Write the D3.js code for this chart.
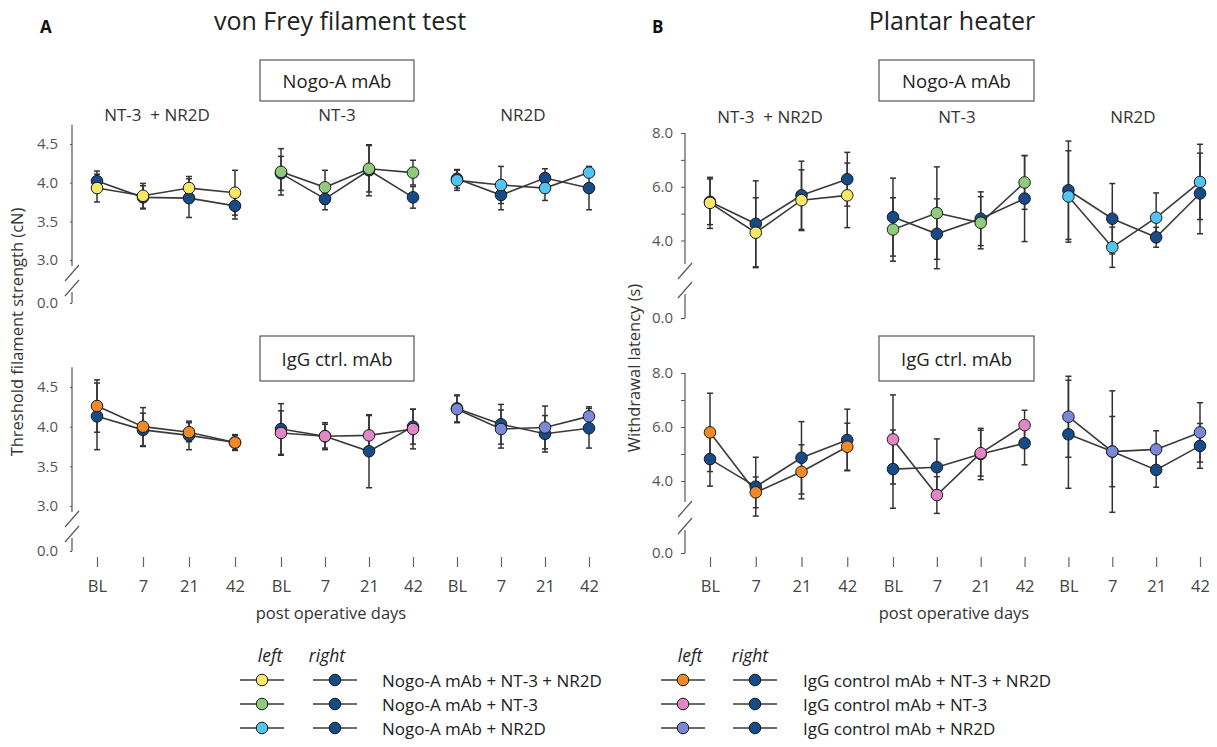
<!DOCTYPE html>
<html><head><meta charset="utf-8">
<script src="https://cdn.jsdelivr.net/npm/d3@7"></script>
<style>
body{margin:0;background:#fff}
text{font-family:"Open Sans",sans-serif}
</style></head>
<body><svg id="c" width="1217" height="747"></svg>
<script>
// ---------- DATA ----------
const days = ["BL","7","21","42"];
const groupNames = ["NT-3  + NR2D","NT-3","NR2D"];
const vfTicks = [3.0,3.5,4.0,4.5];
const phTicks = [4.0,6.0,8.0];
const phMinorTicks = [5.0,7.0];

// von Frey, Nogo-A mAb (left = coloured, right = dark blue), one row per group
const vfNogoLeft     = [[3.93,3.83,3.93,3.87],[4.14,3.94,4.18,4.13],[4.03,3.97,3.93,4.13]];
const vfNogoLeftErr  = [[0.18,0.16,0.15,0.29],[0.30,0.22,0.30,0.16],[0.13,0.24,0.16,0.05]];
const vfNogoRight    = [[4.02,3.81,3.80,3.70],[4.12,3.79,4.16,3.81],[4.05,3.84,4.06,3.93]];
const vfNogoRightErr = [[0.13,0.15,0.25,0.17],[0.22,0.14,0.33,0.14],[0.12,0.19,0.12,0.28]];
// von Frey, IgG ctrl. mAb
const vfIgGLeft      = [[4.26,4.00,3.93,3.80],[3.92,3.88,3.89,3.97],[4.22,3.97,3.99,4.13]];
const vfIgGLeftErr   = [[0.33,0.24,0.12,0.09],[0.28,0.17,0.25,0.25],[0.17,0.24,0.27,0.12]];
const vfIgGRight     = [[4.13,3.96,3.89,3.80],[3.97,3.88,3.69,4.00],[4.23,4.03,3.91,3.98]];
const vfIgGRightErr  = [[0.42,0.21,0.18,0.10],[0.32,0.15,0.46,0.22],[0.17,0.25,0.23,0.25]];
// Plantar heater, Nogo-A mAb
const phNogoLeft     = [[5.40,4.29,5.50,5.68],[4.41,5.02,4.66,6.16],[5.64,3.75,4.85,6.18]];
const phNogoLeftErr  = [[0.95,1.30,1.13,1.20],[1.18,1.72,0.97,1.00],[1.70,0.75,0.92,1.40]];
const phNogoRight    = [[5.44,4.62,5.68,6.28],[4.87,4.25,4.81,5.56],[5.87,4.81,4.12,5.75]];
const phNogoRightErr = [[0.85,1.60,1.27,1.00],[1.45,1.30,1.00,1.60],[1.83,1.31,0.37,1.50]];
// Plantar heater, IgG ctrl. mAb
const phIgGLeft      = [[5.80,3.58,4.34,5.27],[5.54,3.48,5.03,6.07],[6.38,5.09,5.17,5.80]];
const phIgGLeftErr   = [[1.45,0.57,1.00,0.87],[1.65,0.68,0.85,0.55],[1.50,2.25,0.69,1.10]];
const phIgGRight     = [[4.81,3.79,4.86,5.52],[4.44,4.51,5.00,5.40],[5.73,5.09,4.41,5.30]];
const phIgGRightErr  = [[1.00,1.09,1.34,1.14],[1.45,1.05,0.95,0.80],[2.00,1.30,0.64,0.83]];

const nogoColors = ["#f6e766","#8fcb7b","#52c4ef"];
const iggColors  = ["#f08a28","#e387c4","#7b88d6"];
const rightColor = "#174b87";

const legendNogo = ["Nogo-A mAb + NT-3 + NR2D","Nogo-A mAb + NT-3","Nogo-A mAb + NR2D"];
const legendIgG  = ["IgG control mAb + NT-3 + NR2D","IgG control mAb + NT-3","IgG control mAb + NR2D"];

// ---------- LAYOUT ----------
const svg = d3.select("#c");
const ink = "#3a3a3a";
const tickCol = "#555";

const panels = [
  { letter:"A", letterX:40, title:"von Frey filament test", titleX:340, ax:72, xr:[97,281,589],
    boxX:[260,414], subX:[157,337,523], ticks:vfTicks, minor:[], top:4.75, tickSize:2, pad:12,
    ylabel:"Threshold filament strength (cN)", ylabelX:19, ylabelY:332, daysX:331,
    rows:[
      {box:"Nogo-A mAb", boxY:[60,101], subY:114, dom:[3.0,4.5], yr:[260,144], bTop:266, bBot:292, zeroY:303,
       left:vfNogoLeft, leftErr:vfNogoLeftErr, right:vfNogoRight, rightErr:vfNogoRightErr, colors:nogoColors},
      {box:"IgG ctrl. mAb", boxY:[336,381], dom:[3.0,4.5], yr:[506,387], bTop:512, bBot:538, zeroY:551,
       left:vfIgGLeft, leftErr:vfIgGLeftErr, right:vfIgGRight, rightErr:vfIgGRightErr, colors:iggColors}
    ]},
  { letter:"B", letterX:652, title:"Plantar heater", titleX:952, ax:685, xr:[710,893,1200],
    boxX:[879,1034], subX:[770,957,1133], ticks:phTicks, minor:phMinorTicks, top:8.0, tickSize:4, pad:8,
    ylabel:"Withdrawal latency (s)", ylabelX:636, ylabelY:368, daysX:954,
    rows:[
      {box:"Nogo-A mAb", boxY:[60,101], subY:116, dom:[4.0,8.0], yr:[240.5,133], bTop:264, bBot:294, zeroY:318,
       left:phNogoLeft, leftErr:phNogoLeftErr, right:phNogoRight, rightErr:phNogoRightErr, colors:nogoColors},
      {box:"IgG ctrl. mAb", boxY:[336,381], dom:[4.0,8.0], yr:[481,373], bTop:502, bBot:530, zeroY:553,
       left:phIgGLeft, leftErr:phIgGLeftErr, right:phIgGRight, rightErr:phIgGRightErr, colors:iggColors}
    ]}
];

const fmt = d3.format(".1f");

function series(vals, errs) {
  const pts = [];
  vals.forEach((gv, gi) => gv.forEach((v, di) => pts.push({g:gi, i:gi*4+di, v:v, e:errs[gi][di]})));
  return pts;
}

panels.forEach(p => {
  const x = d3.scaleLinear().domain([0,4,11]).range(p.xr);
  svg.append("text").attr("x", p.letterX).attr("y", 33).attr("font-size", 17).attr("font-weight", "bold")
    .attr("fill", "#111").text(p.letter);
  svg.append("text").attr("x", p.titleX).attr("y", 30).attr("text-anchor", "middle").attr("font-size", 25)
    .attr("fill", "#222").text(p.title);
  svg.append("text").attr("transform", `translate(${p.ylabelX},${p.ylabelY}) rotate(-90)`)
    .attr("text-anchor", "middle").attr("dominant-baseline", "middle").attr("font-size", 16.5).attr("fill", "#333").text(p.ylabel);
  const xAxis = d3.axisBottom(x).tickValues(d3.range(12)).tickFormat(i => days[i % 4]).tickSize(10).tickPadding(13);
  const gx = svg.append("g").attr("transform", "translate(0,557)").call(xAxis);
  gx.select(".domain").remove();
  gx.selectAll(".tick line").attr("stroke", "#666").attr("stroke-width", 1.2);
  gx.selectAll(".tick text").attr("font-size", 16.5).attr("fill", "#444").attr("font-family", "'Open Sans',sans-serif");
  svg.append("text").attr("x", p.daysX).attr("y", 619).attr("text-anchor", "middle").attr("font-size", 16.5)
    .attr("fill", "#333").text("post operative days");

  p.rows.forEach(r => {
    const y = d3.scaleLinear().domain(r.dom).range(r.yr);
    const g = svg.append("g");
    g.append("rect").attr("x", p.boxX[0]).attr("y", r.boxY[0]).attr("width", p.boxX[1]-p.boxX[0])
      .attr("height", r.boxY[1]-r.boxY[0]).attr("fill", "#fff").attr("stroke", "#555").attr("stroke-width", 1.2);
    g.append("text").attr("x", (p.boxX[0]+p.boxX[1])/2).attr("y", (r.boxY[0]+r.boxY[1])/2)
      .attr("text-anchor", "middle").attr("dominant-baseline", "central").attr("font-size", 18.5).attr("fill", "#222").text(r.box);
    if (r.subY) {
      groupNames.forEach((n, gi) => g.append("text").attr("x", p.subX[gi]).attr("y", r.subY)
        .attr("text-anchor", "middle").attr("dominant-baseline", "central").attr("font-size", 17).attr("fill", "#333")
        .style("white-space", "pre").text(n));
    }
    g.append("line").attr("x1", p.ax).attr("x2", p.ax).attr("y1", y(p.top)).attr("y2", r.bTop)
      .attr("stroke", "#555").attr("stroke-width", 1.2);
    g.append("line").attr("x1", p.ax).attr("x2", p.ax).attr("y1", r.bBot).attr("y2", r.zeroY)
      .attr("stroke", "#555").attr("stroke-width", 1.2);
    [r.bTop + 7, r.bBot - 4].forEach(yy => g.append("line")
      .attr("x1", p.ax - 7).attr("y1", yy + 8).attr("x2", p.ax + 7).attr("y2", yy - 8)
      .attr("stroke", "#555").attr("stroke-width", 1.2));
    const yAx = d3.axisLeft(y).tickValues(p.ticks).tickFormat(fmt).tickSize(p.tickSize).tickPadding(p.pad);
    const ga = g.append("g").attr("transform", `translate(${p.ax},0)`).call(yAx);
    ga.select(".domain").remove();
    if (p.minor.length) {
      const gm = g.append("g").attr("transform", `translate(${p.ax},0)`)
        .call(d3.axisLeft(y).tickValues(p.minor).tickFormat("").tickSize(p.tickSize));
      gm.select(".domain").remove();
    }
    const y0 = d3.scaleLinear().domain([0, 1]).range([r.zeroY, r.zeroY - 50]);
    const gz = g.append("g").attr("transform", `translate(${p.ax},0)`)
      .call(d3.axisLeft(y0).tickValues([0]).tickFormat(fmt).tickSize(p.tickSize).tickPadding(p.pad));
    gz.select(".domain").remove();
    g.selectAll(".tick line").attr("stroke", "#555");
    g.selectAll(".tick text").attr("font-size", 15).attr("fill", tickCol).attr("font-family", "'Open Sans',sans-serif");

    const L = series(r.left, r.leftErr), R = series(r.right, r.rightErr);
    const line = d3.line().x(d => x(d.i)).y(d => y(d.v));
    [R, L].forEach(S => {
      d3.range(3).forEach(gi => {
        g.append("path").datum(S.filter(d => d.g === gi)).attr("d", line).attr("fill", "none")
          .attr("stroke", ink).attr("stroke-width", 1.6);
      });
    });
    [R, L].forEach(S => {
      const eb = g.append("g").attr("stroke", "#333").attr("stroke-width", 1.5);
      S.forEach(d => {
        eb.append("line").attr("x1", x(d.i)).attr("x2", x(d.i)).attr("y1", y(d.v - d.e)).attr("y2", y(d.v + d.e));
        [d.v - d.e, d.v + d.e].forEach(vv => eb.append("line").attr("x1", x(d.i) - 3).attr("x2", x(d.i) + 3)
          .attr("y1", y(vv)).attr("y2", y(vv)));
      });
    });
    g.selectAll(null).data(R).enter().append("circle").attr("cx", d => x(d.i)).attr("cy", d => y(d.v))
      .attr("r", 5.8).attr("fill", rightColor).attr("stroke", "#1a1a1a").attr("stroke-width", 1);
    g.selectAll(null).data(L).enter().append("circle").attr("cx", d => x(d.i)).attr("cy", d => y(d.v))
      .attr("r", 5.8).attr("fill", d => r.colors[d.g]).attr("stroke", "#1a1a1a").attr("stroke-width", 1);
  });
});

// ---------- LEGENDS ----------
const legends = [
  {labels:legendNogo, colors:nogoColors, lx:262, rx:335, tx:382, leftLab:270, rightLab:327},
  {labels:legendIgG,  colors:iggColors,  lx:683, rx:755, tx:803, leftLab:690, rightLab:750}
];
const rowY = d3.scalePoint().domain([0,1,2]).range([680,728]);
legends.forEach(lg => {
  svg.append("text").attr("x", lg.leftLab).attr("y", 662).attr("text-anchor", "middle").attr("font-size", 17.5)
    .attr("font-style", "italic").attr("fill", "#222").text("left");
  svg.append("text").attr("x", lg.rightLab).attr("y", 662).attr("text-anchor", "middle").attr("font-size", 17.5)
    .attr("font-style", "italic").attr("fill", "#222").text("right");
  lg.labels.forEach((lab, i) => {
    const yy = rowY(i);
    [[lg.lx, lg.colors[i]], [lg.rx, rightColor]].forEach(([cx, col]) => {
      svg.append("line").attr("x1", cx - 22).attr("x2", cx + 22).attr("y1", yy).attr("y2", yy)
        .attr("stroke", ink).attr("stroke-width", 1.6);
      svg.append("circle").attr("cx", cx).attr("cy", yy).attr("r", 5.8).attr("fill", col)
        .attr("stroke", "#1a1a1a").attr("stroke-width", 1);
    });
    svg.append("text").attr("x", lg.tx).attr("y", yy).attr("dominant-baseline", "central").attr("font-size", 17)
      .attr("fill", "#222").text(lab);
  });
});
</script>
</body></html>
